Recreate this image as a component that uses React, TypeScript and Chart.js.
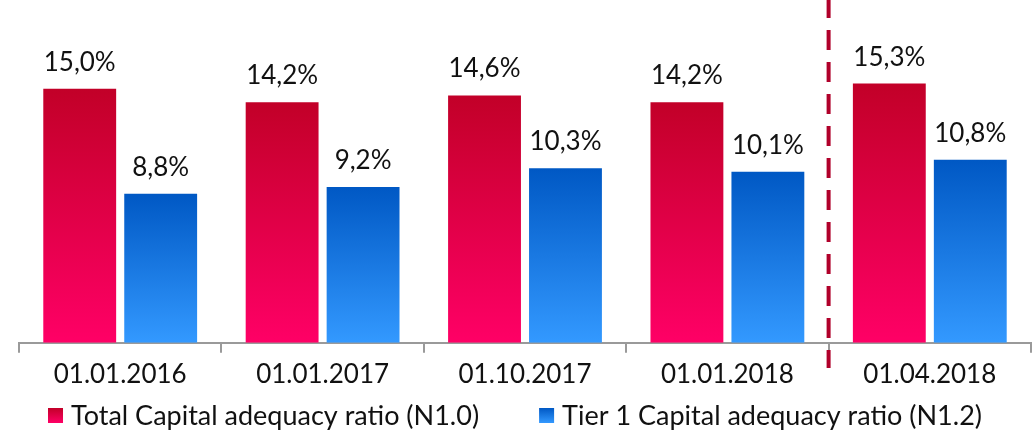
import React, { useEffect, useRef } from "react";
import { Chart, registerables } from "chart.js";

Chart.register(...registerables);

const categories = ["01.01.2016", "01.01.2017", "01.10.2017", "01.01.2018", "01.04.2018"];
const totalCapital = [15.0, 14.2, 14.6, 14.2, 15.3];
const tier1Capital = [8.8, 9.2, 10.3, 10.1, 10.8];
const seriesNames = ["Total Capital adequacy ratio (N1.0)", "Tier 1 Capital adequacy ratio (N1.2)"];
const dividerAfterIndex = 3;

const FONT = "Lato, 'Noto Sans', sans-serif";
const RED_TOP = "#C20028";
const RED_BOTTOM = "#FF0066";
const BLUE_TOP = "#0058C4";
const BLUE_BOTTOM = "#3399FF";
const COLORS: [string, string][] = [
  [RED_TOP, RED_BOTTOM],
  [BLUE_TOP, BLUE_BOTTOM],
];

function barGradient(top: string, bottom: string) {
  return (ctx: any) => {
    const chart = ctx.chart;
    if (ctx.type !== "data" || !chart.chartArea) return top;
    const yScale = chart.scales.y;
    const v = ctx.raw as number;
    const y0 = yScale.getPixelForValue(v);
    const y1 = yScale.getPixelForValue(0);
    const g = chart.ctx.createLinearGradient(0, y0, 0, y1);
    g.addColorStop(0, top);
    g.addColorStop(1, bottom);
    return g;
  };
}

const fmt = (v: number) => v.toFixed(1).replace(".", ",") + "%";

const overlayPlugin = {
  id: "overlay",
  afterDatasetsDraw(chart: any) {
    const { ctx } = chart;
    ctx.save();
    ctx.font = `26px ${FONT}`;
    ctx.fillStyle = "#111111";
    ctx.textAlign = "center";
    ctx.textBaseline = "alphabetic";
    chart.data.datasets.forEach((ds: any, di: number) => {
      const meta = chart.getDatasetMeta(di);
      meta.data.forEach((bar: any, i: number) => {
        ctx.fillText(fmt(ds.data[i]), bar.x, bar.y - 18);
      });
    });
    ctx.restore();
  },
  afterDraw(chart: any) {
    const { ctx } = chart;
    const xScale = chart.scales.x;
    // dashed divider
    const xd = xScale.getPixelForValue(dividerAfterIndex + 0.5);
    ctx.save();
    ctx.strokeStyle = "#B0002A";
    ctx.lineWidth = 4;
    ctx.setLineDash([20, 12]);
    ctx.lineDashOffset = 2;
    ctx.beginPath();
    ctx.moveTo(xd, 0);
    ctx.lineTo(xd, 368);
    ctx.stroke();
    ctx.restore();

    // legend
    ctx.save();
    ctx.font = `27px ${FONT}`;
    ctx.textBaseline = "middle";
    ctx.textAlign = "left";
    const box = 15;
    const gap = 8;
    const spacing = 60;
    const widths = seriesNames.map((n) => ctx.measureText(n).width);
    const total = widths.reduce((a, w) => a + box + gap + w, 0) + spacing * (seriesNames.length - 1);
    let x = 515 - total / 2;
    const cy = 415.5;
    seriesNames.forEach((name, i) => {
      const g = ctx.createLinearGradient(0, cy - box / 2, 0, cy + box / 2);
      g.addColorStop(0, COLORS[i][0]);
      g.addColorStop(1, COLORS[i][1]);
      ctx.fillStyle = g;
      ctx.fillRect(x, cy - box / 2, box, box);
      ctx.fillStyle = "#111111";
      ctx.fillText(name, x + box + gap, cy + 1);
      x += box + gap + widths[i] + spacing;
    });
    ctx.restore();
  },
};

export default function App() {
  const ref = useRef<HTMLCanvasElement | null>(null);
  useEffect(() => {
    if (!ref.current) return;
    const chart = new Chart(ref.current, {
      type: "bar",
      data: {
        labels: categories,
        datasets: [
          {
            label: seriesNames[0],
            data: totalCapital,
            backgroundColor: barGradient(RED_TOP, RED_BOTTOM),
            categoryPercentage: 0.8,
            barPercentage: 0.9,
          },
          {
            label: seriesNames[1],
            data: tier1Capital,
            backgroundColor: barGradient(BLUE_TOP, BLUE_BOTTOM),
            categoryPercentage: 0.8,
            barPercentage: 0.9,
          },
        ],
      },
      options: {
        responsive: false,
        animation: false,
        devicePixelRatio: 1,
        layout: { padding: { left: 19, right: 1, top: 4, bottom: 36 } },
        plugins: {
          legend: { display: false },
          tooltip: { enabled: false },
        },
        scales: {
          x: {
            grid: {
              display: true,
              drawOnChartArea: false,
              drawTicks: true,
              tickLength: 10,
              color: "#9a9a9a",
              lineWidth: 2,
              offset: true,
            },
            border: { display: true, color: "#9a9a9a", width: 2 },
            ticks: {
              font: { family: FONT, size: 26 },
              color: "#111111",
              padding: 6,
              maxRotation: 0,
            },
          },
          y: { display: false, min: 0, max: 20 },
        },
      },
      plugins: [overlayPlugin],
    });
    return () => chart.destroy();
  }, []);
  return (
    <div style={{ position: "fixed", left: 0, top: 0, width: 1032, height: 432, background: "#ffffff" }}>
      <canvas ref={ref} width={1032} height={432} />
    </div>
  );
}
